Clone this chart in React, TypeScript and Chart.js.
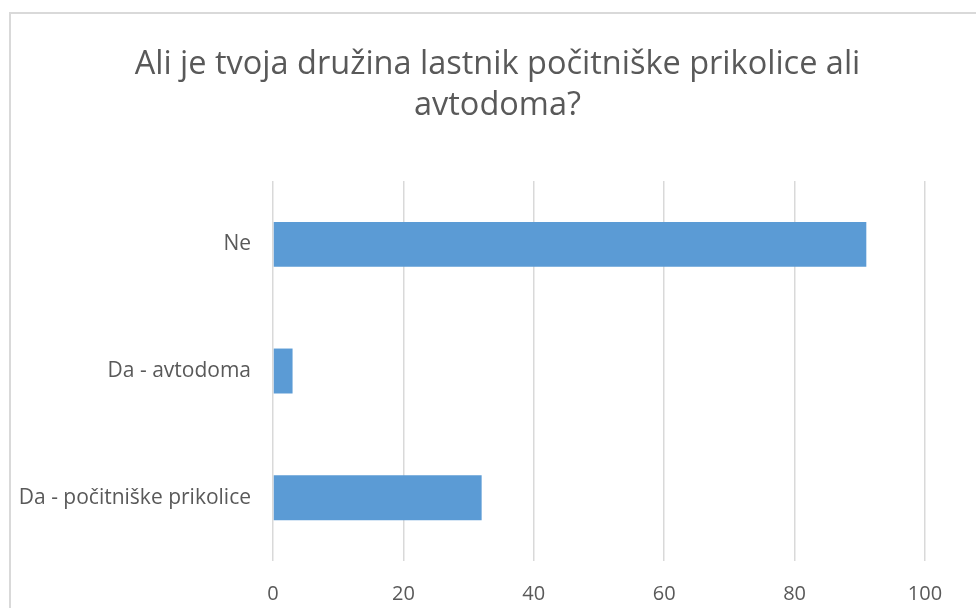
import React, { useEffect, useRef } from "react";
import { Chart, registerables } from "chart.js";

Chart.register(...registerables);

const titleLines = ["Ali je tvoja družina lastnik počitniške prikolice ali", "avtodoma?"];
const categories = ["Ne", "Da - avtodoma", "Da - počitniške prikolice"];
const values = [91, 3, 32];
const xTicks = [0, 20, 40, 60, 80, 100];

const TEXT = "#595959";
const GRID = "#d9d9d9";
const BAR = "#5b9bd5";
const FONT = "'Open Sans', sans-serif";

export default function App() {
  const ref = useRef<HTMLCanvasElement | null>(null);
  useEffect(() => {
    if (!ref.current) return;
    const chart = new Chart(ref.current, {
      type: "bar",
      data: {
        labels: categories,
        datasets: [
          {
            data: values,
            backgroundColor: BAR,
            borderWidth: 0,
            categoryPercentage: 1,
            barPercentage: 0.355,
          },
        ],
      },
      options: {
        indexAxis: "y",
        animation: false,
        responsive: true,
        maintainAspectRatio: false,
        layout: { padding: { left: 19, right: 0, top: 0, bottom: 0 } },
        plugins: {
          legend: { display: false },
          tooltip: { enabled: false },
          title: {
            display: true,
            text: titleLines,
            color: TEXT,
            font: { family: FONT, size: 32.5, weight: "normal", lineHeight: 1.262 },
            padding: { top: 44, bottom: 55 },
          },
        },
        scales: {
          x: {
            min: 0,
            max: 100,
            afterBuildTicks: (scale: any) => {
              scale.ticks = xTicks.map((v) => ({ value: v }));
            },
            afterFit: (scale: any) => {
              scale.height = 47;
              scale.paddingRight = 51;
              scale.paddingLeft = 0;
            },
            grid: { color: GRID, lineWidth: 1.5, drawTicks: false },
            border: { display: false },
            ticks: {
              color: TEXT,
              font: { family: FONT, size: 20 },
              padding: 21,
            },
          },
          y: {
            afterFit: (scale: any) => {
              scale.width = 254;
            },
            grid: { display: false, drawTicks: false },
            border: { display: false },
            ticks: {
              color: TEXT,
              font: { family: FONT, size: 21 },
              padding: 22,
            },
          },
        },
      },
    });
    return () => chart.destroy();
  }, []);

  return (
    <div
      style={{
        position: "fixed",
        left: 0,
        top: 0,
        width: 976,
        height: 608,
        overflow: "hidden",
        background: "#ffffff",
      }}
    >
      <div
        style={{
          position: "absolute",
          left: 9,
          top: 12,
          width: 1200,
          height: 1000,
          borderLeft: `2px solid ${GRID}`,
          borderTop: `2px solid ${GRID}`,
        }}
      />
      <div style={{ position: "absolute", left: 0, top: 0, width: 976, height: 608 }}>
        <canvas ref={ref} />
      </div>
    </div>
  );
}
